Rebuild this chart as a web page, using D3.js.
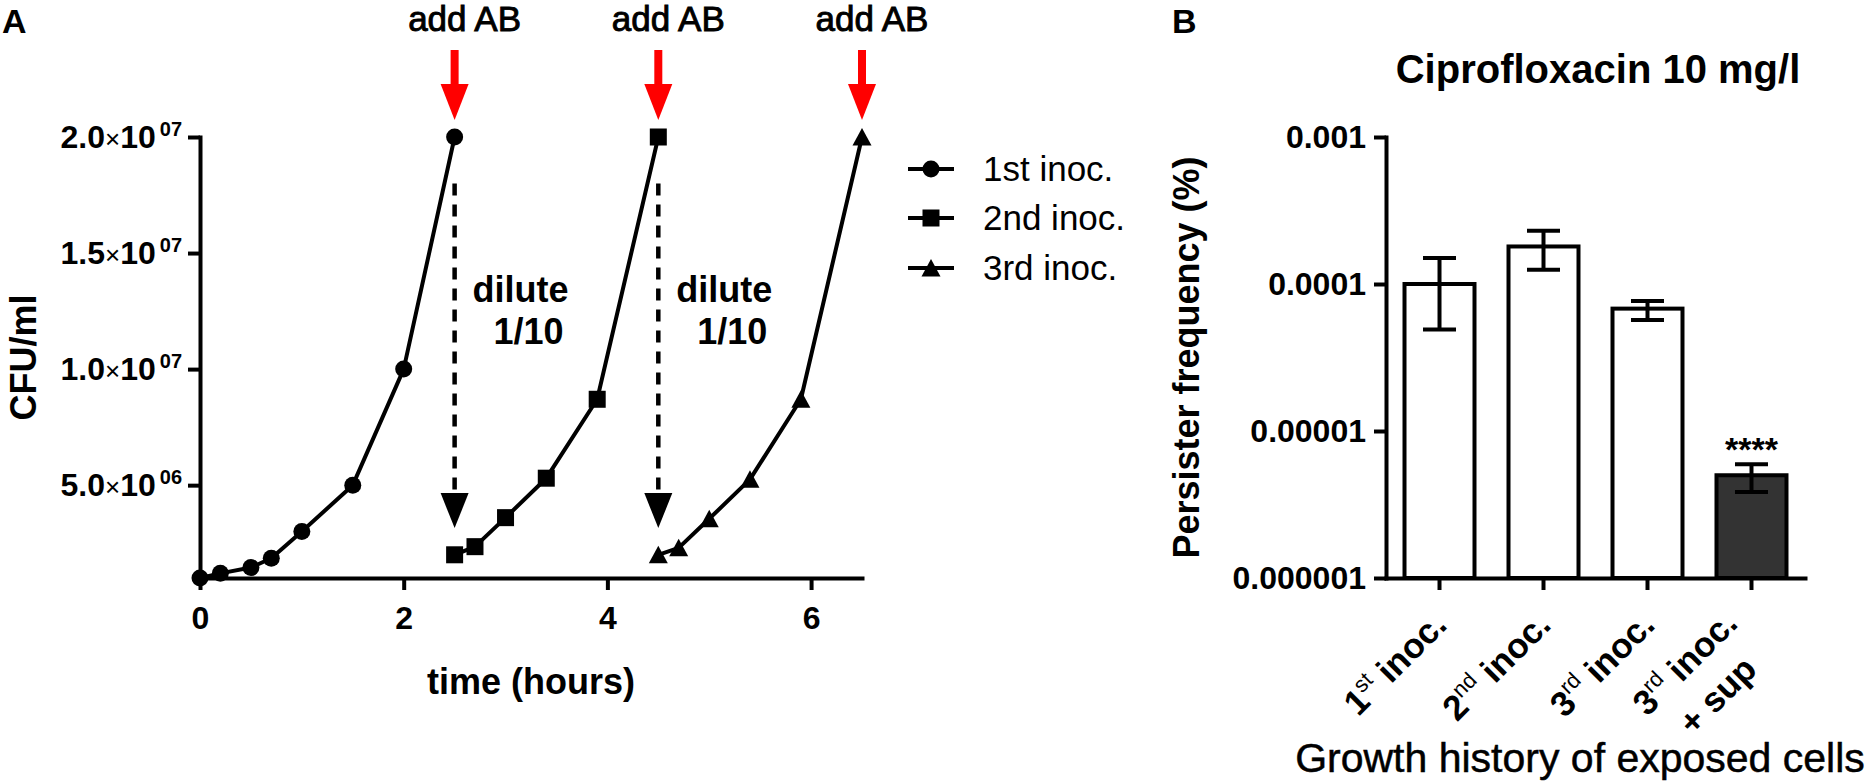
<!DOCTYPE html>
<html>
<head>
<meta charset="utf-8">
<script src="https://cdn.jsdelivr.net/npm/d3@7"></script>
<style>
  html, body { margin: 0; padding: 0; background: #ffffff; }
  svg { display: block; }
</style>
</head>
<body>
<svg id="chart" width="1872" height="784"></svg>
<script>
// ---------------- DATA ----------------
// Panel A: growth curves (time in hours, CFU/ml)
const time1 = [0, 0.2, 0.5, 0.7, 1.0, 1.5, 2.0, 2.5];
const cfu1  = [1.0e6, 1.2e6, 1.45e6, 1.85e6, 3.0e6, 5.0e6, 1.0e7, 2.0e7];
const time2 = [2.5, 2.7, 3.0, 3.4, 3.9, 4.5];
const cfu2  = [2.0e6, 2.35e6, 3.6e6, 5.3e6, 8.7e6, 2.0e7];
const time3 = [4.5, 4.7, 5.0, 5.4, 5.9, 6.5];
const cfu3  = [2.0e6, 2.3e6, 3.55e6, 5.25e6, 8.7e6, 2.0e7];
const seriesNames = ["1st inoc.", "2nd inoc.", "3rd inoc."];
const seriesSymbols = ["circle", "square", "triangle"];
const xTicksA = [0, 2, 4, 6];
const yTicksA = [5e6, 1e7, 1.5e7, 2e7];
const yTickMantissaA = ["5.0", "1.0", "1.5", "2.0"];
const yTickExponentA = ["06", "07", "07", "07"];
const addABTimes = [2.5, 4.5, 6.5];
const diluteTimes = [2.5, 4.5];
const diluteFrom = 1.8e7;   // dashed arrow start (CFU/ml)
const diluteTo = 3.15e6;    // dashed arrow tip (CFU/ml)

// Panel B: persister frequency bars
const categoriesB = ["1st", "2nd", "3rd", "3rd+sup"];
const labelNumB  = ["1", "2", "3", "3"];
const labelSupB  = ["st", "nd", "rd", "rd"];
const labelLine2B = ["", "", "", "+ sup"];
const meanB = [1.0e-4, 1.8e-4, 6.8e-5, 5.0e-6];
const errLowB = [4.9e-5, 1.25e-4, 5.7e-5, 3.85e-6];
const errHighB = [1.5e-4, 2.3e-4, 7.65e-5, 5.95e-6];
const fillB = ["#ffffff", "#ffffff", "#ffffff", "#333333"];
const signifB = ["", "", "", "****"];
const yTicksB = [1e-6, 1e-5, 1e-4, 1e-3];
const yTickLabelsB = ["0.000001", "0.00001", "0.0001", "0.001"];

// ---------------- DRAWING ----------------
const FONT = "'Liberation Sans', Arial, Helvetica, sans-serif";
const svg = d3.select("#chart");
svg.append("rect").attr("width", 1872).attr("height", 784).attr("fill", "#fff");
svg.attr("font-family", FONT);

// ===== Panel A =====
const xA = d3.scaleLinear().domain([0, 6.5]).range([200, 862]);
const yA = d3.scaleLinear().domain([1e6, 2e7]).range([578, 137]);
const gA = svg.append("g");

gA.append("text").attr("x", 2).attr("y", 33).attr("font-size", 34).attr("font-weight", "bold").text("A");

// axes
const axXA = gA.append("g").attr("transform", `translate(0,${yA.range()[0]})`)
  .call(d3.axisBottom(xA).tickValues(xTicksA).tickFormat(d3.format("d")).tickSize(12).tickSizeOuter(0).tickPadding(16));
const axYA = gA.append("g").attr("transform", `translate(${xA.range()[0]},0)`)
  .call(d3.axisLeft(yA).tickValues(yTicksA).tickFormat("").tickSize(12).tickSizeOuter(0));
[axXA, axYA].forEach(a => {
  a.select(".domain").attr("stroke", "#000").attr("stroke-width", 4).attr("stroke-linecap", "square");
  a.selectAll(".tick line").attr("stroke", "#000").attr("stroke-width", 4);
});
axXA.selectAll(".tick text").attr("font-size", 32).attr("font-weight", "bold").attr("font-family", FONT).attr("fill", "#000");

// y tick labels with superscript exponents
yTicksA.forEach((v, i) => {
  const t = gA.append("text").attr("x", xA.range()[0] - 18).attr("y", yA(v) + 11)
    .attr("text-anchor", "end").attr("font-size", 32).attr("font-weight", "bold");
  t.append("tspan").text(yTickMantissaA[i]);
  t.append("tspan").attr("font-weight", "normal").attr("font-size", 26).text("\u00D7");
  t.append("tspan").text("10");
  t.append("tspan").attr("font-size", 20).attr("dy", -12).text("\u2009" + yTickExponentA[i]);
});

// axis titles
gA.append("text").attr("x", d3.mean(xA.range())).attr("y", 694).attr("text-anchor", "middle")
  .attr("font-size", 36).attr("font-weight", "bold").text("time (hours)");
gA.append("text").attr("transform", `translate(36,${d3.mean(yA.range())}) rotate(-90)`)
  .attr("text-anchor", "middle").attr("font-size", 36).attr("font-weight", "bold").text("CFU/ml");

// dashed dilution arrows
diluteTimes.forEach(t => {
  const x = xA(t);
  const headH = 35, headW = 28;
  const tip = yA(diluteTo);
  gA.append("line").attr("x1", x).attr("x2", x).attr("y1", yA(diluteFrom)).attr("y2", tip - headH + 2)
    .attr("stroke", "#000").attr("stroke-width", 4.5).attr("stroke-dasharray", "12,9");
  gA.append("path").attr("d", `M${x - headW / 2},${tip - headH}L${x + headW / 2},${tip - headH}L${x},${tip}Z`).attr("fill", "#000");
  gA.append("text").attr("x", x + 66).attr("y", 302).attr("text-anchor", "middle")
    .attr("font-size", 36).attr("font-weight", "bold").text("dilute");
  gA.append("text").attr("x", x + 74).attr("y", 344).attr("text-anchor", "middle")
    .attr("font-size", 36).attr("font-weight", "bold").text("1/10");
});

// red "add AB" arrows
addABTimes.forEach(t => {
  const x = xA(t);
  const tip = yA(2e7) - 17;
  gA.append("rect").attr("x", x - 4).attr("y", tip - 70).attr("width", 8).attr("height", 38).attr("fill", "#ff0000");
  gA.append("path").attr("d", `M${x - 14},${tip - 36}L${x + 14},${tip - 36}L${x},${tip}Z`).attr("fill", "#ff0000");
  gA.append("text").attr("x", x + 10).attr("y", 31).attr("text-anchor", "middle")
    .attr("font-size", 35).attr("stroke", "#000").attr("stroke-width", 0.9).text("add AB");
});

// symbol drawing helper
function drawSymbol(g, kind, x, y) {
  if (kind === "circle") g.append("circle").attr("cx", x).attr("cy", y).attr("r", 8.5).attr("fill", "#000");
  else if (kind === "square") g.append("rect").attr("x", x - 8.5).attr("y", y - 8.5).attr("width", 17).attr("height", 17).attr("fill", "#000");
  else g.append("path").attr("d", `M${x},${y - 9}L${x + 9.5},${y + 8.5}L${x - 9.5},${y + 8.5}Z`).attr("fill", "#000");
}

const seriesA = [[time1, cfu1], [time2, cfu2], [time3, cfu3]];
const line = d3.line().x(d => xA(d[0])).y(d => yA(d[1]));
seriesA.forEach(([ts, vs], si) => {
  const pts = ts.map((t, i) => [t, vs[i]]);
  gA.append("path").attr("d", line(pts)).attr("fill", "none").attr("stroke", "#000").attr("stroke-width", 4).attr("stroke-linejoin", "round");
  pts.forEach(p => drawSymbol(gA, seriesSymbols[si], xA(p[0]), yA(p[1])));
});

// legend
const legY = [169, 218, 268];
seriesNames.forEach((name, i) => {
  gA.append("line").attr("x1", 908).attr("x2", 954).attr("y1", legY[i]).attr("y2", legY[i]).attr("stroke", "#000").attr("stroke-width", 4);
  drawSymbol(gA, seriesSymbols[i], 931, legY[i]);
  gA.append("text").attr("x", 983).attr("y", legY[i] + 12).attr("font-size", 35).text(name);
});

// ===== Panel B =====
const xB = d3.scaleBand().domain(categoriesB).range([1386, 1805]).paddingInner(0.327).paddingOuter(0.178);
const yB = d3.scaleLog().domain([1e-6, 1e-3]).range([578, 137]);
const gB = svg.append("g");

gB.append("text").attr("x", 1172).attr("y", 33).attr("font-size", 34).attr("font-weight", "bold").text("B");
gB.append("text").attr("x", 1598).attr("y", 83).attr("text-anchor", "middle").attr("font-size", 40).attr("font-weight", "bold")
  .text("Ciprofloxacin 10 mg/l");

// bars
categoriesB.forEach((c, i) => {
  gB.append("rect").attr("x", xB(c)).attr("y", yB(meanB[i])).attr("width", xB.bandwidth())
    .attr("height", yB(1e-6) - yB(meanB[i])).attr("fill", fillB[i]).attr("stroke", "#000").attr("stroke-width", 4);
});
// error bars
categoriesB.forEach((c, i) => {
  const cx = xB(c) + xB.bandwidth() / 2;
  const capW = 33;
  gB.append("line").attr("x1", cx).attr("x2", cx).attr("y1", yB(errLowB[i])).attr("y2", yB(errHighB[i])).attr("stroke", "#000").attr("stroke-width", 4);
  [errLowB[i], errHighB[i]].forEach(v => {
    gB.append("line").attr("x1", cx - capW / 2).attr("x2", cx + capW / 2).attr("y1", yB(v)).attr("y2", yB(v)).attr("stroke", "#000").attr("stroke-width", 4);
  });
  if (signifB[i]) {
    gB.append("text").attr("x", cx).attr("y", yB(errHighB[i]) - 3).attr("text-anchor", "middle")
      .attr("font-size", 34).attr("font-weight", "bold").text(signifB[i]);
  }
});

// axes
const axXB = gB.append("g").attr("transform", `translate(0,${yB.range()[0]})`)
  .call(d3.axisBottom(xB).tickFormat("").tickSize(12).tickSizeOuter(0));
const axYB = gB.append("g").attr("transform", `translate(${xB.range()[0]},0)`)
  .call(d3.axisLeft(yB).tickValues(yTicksB).tickFormat((d, i) => yTickLabelsB[i]).tickSize(12).tickSizeOuter(0).tickPadding(8));
[axXB, axYB].forEach(a => {
  a.select(".domain").attr("stroke", "#000").attr("stroke-width", 4).attr("stroke-linecap", "square");
  a.selectAll(".tick line").attr("stroke", "#000").attr("stroke-width", 4);
});
axYB.selectAll(".tick text").attr("font-size", 32).attr("font-weight", "bold").attr("font-family", FONT).attr("fill", "#000");

// rotated category labels
categoriesB.forEach((c, i) => {
  const cx = xB(c) + xB.bandwidth() / 2;
  const twoLine = labelLine2B[i] !== "";
  const u = twoLine ? -42 : -28, v = twoLine ? 25 : 41;
  const g = gB.append("g").attr("transform", `translate(${cx},${yB.range()[0]}) rotate(-45)`);
  const t = g.append("text").attr("x", u).attr("y", v).attr("text-anchor", "end").attr("font-size", 35).attr("font-weight", "bold");
  t.append("tspan").text(labelNumB[i]);
  t.append("tspan").attr("font-size", 22).attr("font-weight", "normal").attr("dy", -14).text(labelSupB[i]);
  t.append("tspan").attr("dy", 14).text(" inoc.");
  if (twoLine) {
    const w = t.node().getComputedTextLength();
    g.append("text").attr("x", u - w / 2).attr("y", v + 46).attr("text-anchor", "middle")
      .attr("font-size", 35).attr("font-weight", "bold").text(labelLine2B[i]);
  }
});

// axis titles
gB.append("text").attr("transform", `translate(1199,${d3.mean(yB.range())}) rotate(-90)`)
  .attr("text-anchor", "middle").attr("font-size", 36).attr("font-weight", "bold").text("Persister frequency (%)");
gB.append("text").attr("x", 1580).attr("y", 772).attr("text-anchor", "middle").attr("font-size", 41)
  .attr("stroke", "#000").attr("stroke-width", 0.5)
  .text("Growth history of exposed cells");
</script>
</body>
</html>
